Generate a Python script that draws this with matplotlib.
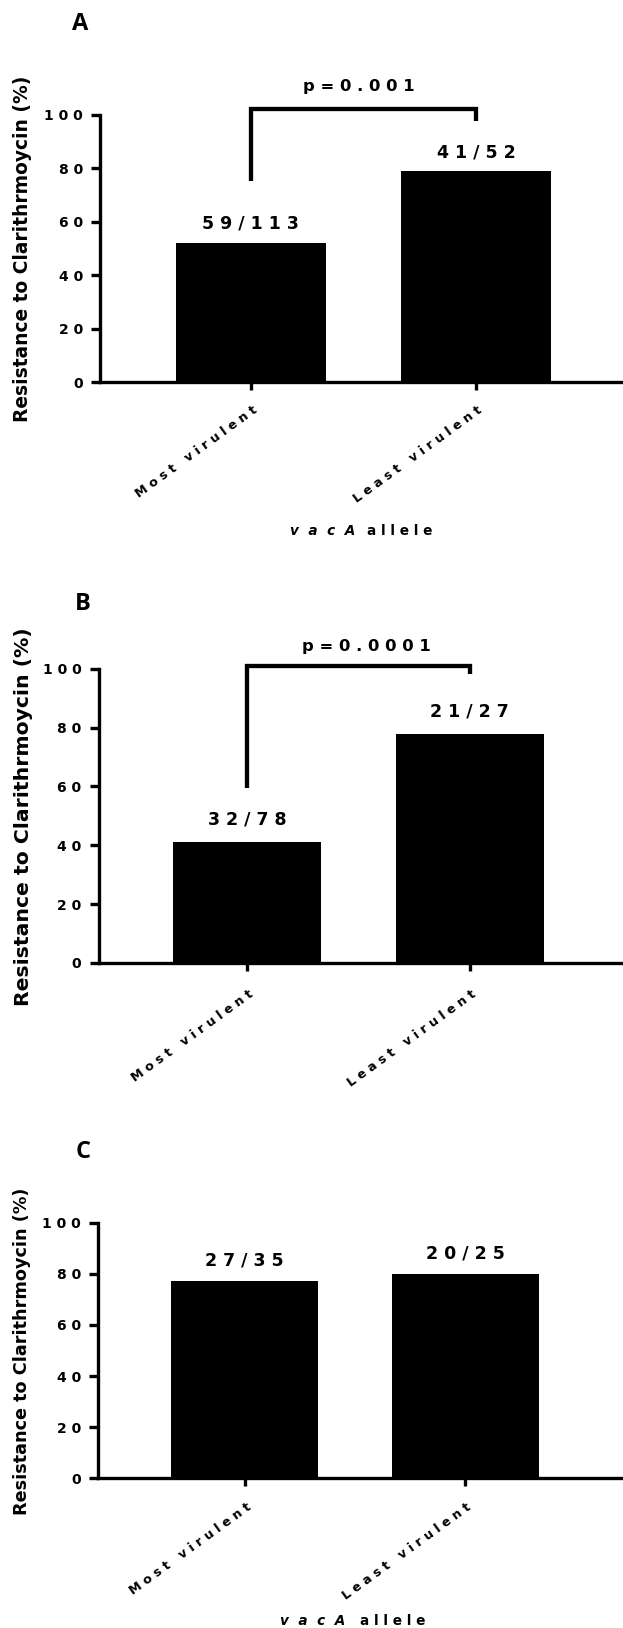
import matplotlib
matplotlib.use("Agg")
import matplotlib.pyplot as plt
import matplotlib.text as mtext
from matplotlib.transforms import offset_copy, blended_transform_factory

# ---------------------------------------------------------------- data
groups = ["Most virulent", "Least virulent"]
y_ticks = [0, 20, 40, 60, 80, 100]
panel_letters = ["A", "B", "C"]

# clarithromycin-resistant isolates / isolates tested, per vacA group
resistant_a = [59, 41]
tested_a = [113, 52]
resistant_b = [32, 21]
tested_b = [78, 27]
resistant_c = [27, 20]
tested_c = [35, 25]

p_values = ["p=0.001", "p=0.0001", None]
y_title = "Resistance to Clarithrmoycin (%)"
x_title_gene = "vacA"
x_title_word = "allele"

# ---------------------------------------------------------------- layout
W, H, DPI = 623, 1628, 100
PX = 72 / DPI  # points per pixel

# geometry of each panel in pixels (x from the left, y from the top)
panels = [
    dict(left=100.1, zero=382.0, top=115.0, centre=250.9, step=225.3,
         ylab=(22.5, 249.0, 13.4), letter=(80.5, 30.0),
         bracket=(102.2, 75.3, 97.9), p_at=(0.230, 109.1),
         count_pad=13.6, tick_pad=22, xtitle=(0.462, 0.517, 535.0)),
    dict(left=98.5, zero=963.0, top=668.8, centre=247.3, step=222.3,
         ylab=(23.5, 817.0, 14.7), letter=(82.5, 609.8),
         bracket=(101.1, 59.5, 98.2), p_at=(0.246, 106.0),
         count_pad=18.0, tick_pad=25, xtitle=None),
    dict(left=97.9, zero=1478.3, top=1222.7, centre=244.7, step=220.5,
         ylab=(22.5, 1351.0, 12.7), letter=(83.3, 1158.5),
         bracket=None, p_at=None,
         count_pad=15.3, tick_pad=22, xtitle=(0.455, 0.521, 1625.0)),
]

plt.rcParams["font.family"] = ["DejaVu Sans"]
plt.rcParams["font.weight"] = "bold"
plt.rcParams["text.color"] = "black"


class SpacedText(mtext.Text):
    """Text drawn with extra tracking between the letters (Prism style)."""

    def __init__(self, *args, gap=" ", **kwargs):
        self._gap = gap
        super().__init__(*args, **kwargs)

    def _spaced(self):
        return self._gap.join(self.get_text())

    def draw(self, renderer):
        with self._cm_set(text=self._spaced()):
            super().draw(renderer)

    def get_window_extent(self, renderer=None, dpi=None):
        with self._cm_set(text=self._spaced()):
            return super().get_window_extent(renderer, dpi)


fig = plt.figure(figsize=(W / DPI, H / DPI), dpi=DPI)
fig.patch.set_facecolor("white")


def put(trans, x, y, s, dx=0.0, dy=0.0, gap=" ", **kw):
    t = SpacedText(x, y, s, gap=gap,
                   transform=offset_copy(trans, x=dx, y=dy, units="dots"),
                   clip_on=False, **kw)
    fig.add_artist(t)
    return t


resistant = [resistant_a, resistant_b, resistant_c]
tested = [tested_a, tested_b, tested_c]
LW = 2.4

for k, lay in enumerate(panels):
    pct = [100.0 * r / n for r, n in zip(resistant[k], tested[k])]
    xs = list(range(len(groups)))
    right = W + 4
    ax = fig.add_axes([lay["left"] / W, 1 - lay["zero"] / H,
                       (right - lay["left"]) / W,
                       (lay["zero"] - lay["top"]) / H])
    ax.set_xlim((lay["left"] - lay["centre"]) / lay["step"],
                (right - lay["centre"]) / lay["step"])
    ax.set_ylim(0, 100)
    ax.patch.set_visible(False)

    ax.bar(xs, pct, width=0.665, color="black", linewidth=0)

    for side in ("top", "right"):
        ax.spines[side].set_visible(False)
    for side in ("left", "bottom"):
        ax.spines[side].set_linewidth(LW)
    ax.set_yticks(y_ticks)
    ax.set_xticks(xs)
    ax.tick_params(axis="y", length=9.5 * PX, width=LW, labelleft=False)
    ax.tick_params(axis="x", length=7.5 * PX, width=LW, labelbottom=False)

    # y tick labels
    ytrans = ax.get_yaxis_transform()
    for v in y_ticks:
        put(ytrans, 0, v, str(v), dx=-17, ha="right", va="center_baseline",
            fontsize=10)

    # rotated group labels
    xtrans = ax.get_xaxis_transform()
    for i, g in enumerate(groups):
        put(xtrans, i, 0, g, dx=1, dy=-lay["tick_pad"],
            rotation=36, rotation_mode="anchor", ha="right", va="top",
            fontsize=9.1)

    # resistant / tested counts above the bars
    for i in xs:
        put(ax.transData, i, pct[i], f"{resistant[k][i]}/{tested[k][i]}",
            dy=lay["count_pad"], ha="center", va="baseline", fontsize=12.5)

    # significance bracket
    if p_values[k]:
        top, lb, rb = lay["bracket"]
        ax.plot([0, 0, 1, 1], [lb, top, top, rb], color="black", lw=3.1,
                clip_on=False, solid_joinstyle="miter",
                solid_capstyle="butt")
        px_, py_ = lay["p_at"]
        put(ax.transData, px_, py_, p_values[k], ha="left", va="baseline",
            fontsize=11.8)

    # axis titles
    yx, yy, ys = lay["ylab"]
    fig.text(yx / W, 1 - yy / H, y_title, rotation=90, ha="center",
             va="center", fontsize=ys)
    if lay["xtitle"]:
        gx, wx, ty = lay["xtitle"]
        tt = blended_transform_factory(ax.transData, fig.transFigure)
        put(tt, gx, 1 - ty / H, x_title_gene, gap="  ", ha="right",
            va="baseline", style="italic", fontsize=9.8)
        put(tt, wx, 1 - ty / H, x_title_word, ha="left",
            va="baseline", fontsize=9.8)

    # panel letter
    lx, ly = lay["letter"]
    fig.text(lx / W, 1 - ly / H, panel_letters[k],
             family=["Open Sans", "DejaVu Sans"],
             weight="bold", fontsize=17, ha="center", va="baseline")

fig.savefig("out.png", dpi=DPI, facecolor="white")
